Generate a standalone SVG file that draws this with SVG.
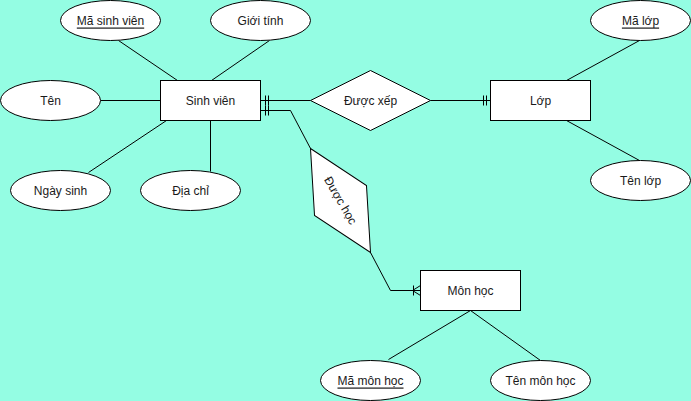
<svg xmlns="http://www.w3.org/2000/svg" width="691" height="401" viewBox="0 0 691 401">
<style>
.bg{fill:#94FDE3}
.shape{fill:#fff;stroke:#000;stroke-width:1}
.ln{fill:none;stroke:#000;stroke-width:1}
text{font-family:"Liberation Sans",Arial,Helvetica,sans-serif;font-size:12px;fill:#1a1a1a;text-anchor:middle;dominant-baseline:central}
.u{text-decoration:underline}
</style>
<rect class="bg" x="0" y="0" width="691" height="401"/>
<g transform="translate(0.5,0.5)">
<g id="connectors">
<line class="ln" x1="118" y1="40" x2="177" y2="80"/>
<line class="ln" x1="269" y1="40" x2="211" y2="80"/>
<line class="ln" x1="100" y1="100" x2="160" y2="100"/>
<line class="ln" x1="88" y1="172" x2="166" y2="120"/>
<line class="ln" x1="210" y1="120" x2="210" y2="171"/>
<line class="ln" x1="639" y1="40" x2="566" y2="80"/>
<line class="ln" x1="566" y1="120" x2="639" y2="160"/>
<line class="ln" x1="470" y1="310" x2="388" y2="359"/>
<line class="ln" x1="470" y1="310" x2="540" y2="360"/>
<path class="ln" d="M260 100H310"/>
<path class="ln" d="M265 95V105M268 95V105"/>
<path class="ln" d="M430 100H490"/>
<path class="ln" d="M483 95V105M486 95V105"/>
<path class="ln" d="M260 110H290L310 148"/>
<path class="ln" d="M265 105V115M268 105V115"/>
<path class="ln" d="M370 252L390 290H420"/>
<path class="ln" d="M413 285V295M412 290L420 285M412 290L420 295"/>
</g>
<g id="sinhvien"><rect class="shape" x="160" y="80" width="100" height="40"/><text x="210" y="100">Sinh viên</text></g>
<g id="masinhvien"><ellipse class="shape" cx="110" cy="20" rx="50" ry="20"/><text class="u" x="110" y="20">Mã sinh viên</text></g>
<g id="gioitinh"><ellipse class="shape" cx="260" cy="20" rx="50" ry="20"/><text x="260" y="20">Giới tính</text></g>
<g id="ten"><ellipse class="shape" cx="50" cy="100" rx="50" ry="20"/><text x="50" y="100">Tên</text></g>
<g id="ngaysinh"><ellipse class="shape" cx="60" cy="190" rx="50" ry="20"/><text x="60" y="190">Ngày sinh</text></g>
<g id="diachi"><ellipse class="shape" cx="190" cy="190" rx="50" ry="20"/><text x="190" y="190">Địa chỉ</text></g>
<g id="duocxep"><polygon class="shape" points="310,100 370,70 430,100 370,130"/><text x="370" y="100">Được xếp</text></g>
<g id="lop"><rect class="shape" x="490" y="80" width="100" height="40"/><text x="540" y="100">Lớp</text></g>
<g id="malop"><ellipse class="shape" cx="640" cy="20" rx="50" ry="20"/><text class="u" x="640" y="20">Mã lớp</text></g>
<g id="tenlop"><ellipse class="shape" cx="640" cy="180" rx="50" ry="20"/><text x="640" y="180">Tên lớp</text></g>
<g id="duochoc" transform="rotate(60 340 200)"><polygon class="shape" points="280,200 340,170 400,200 340,230"/><text x="340" y="200">Được học</text></g>
<g id="monhoc"><rect class="shape" x="420" y="270" width="100" height="40"/><text x="470" y="290">Môn học</text></g>
<g id="mamonhoc"><ellipse class="shape" cx="370" cy="380" rx="50" ry="20"/><text class="u" x="370" y="380">Mã môn học</text></g>
<g id="tenmonhoc"><ellipse class="shape" cx="540" cy="380" rx="50" ry="20"/><text x="540" y="380">Tên môn học</text></g>
</g>
</svg>
